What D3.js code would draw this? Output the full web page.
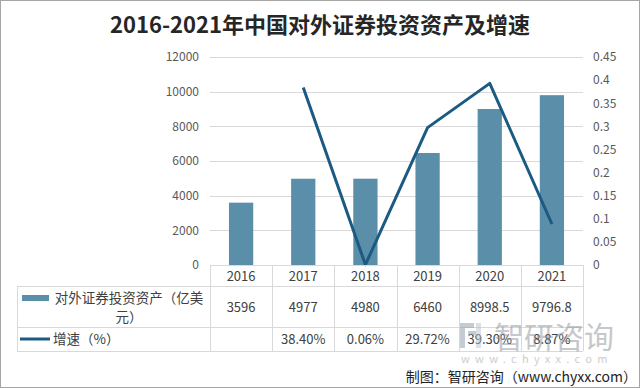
<!DOCTYPE html>
<html>
<head>
<meta charset="utf-8">
<script src="https://cdn.jsdelivr.net/npm/d3@7/dist/d3.min.js"></script>
<style>
  body { margin: 0; background: #fff; }
  svg { display: block; font-family: "Noto Sans CJK SC", "Noto Sans", sans-serif; }
</style>
</head>
<body>
<svg id="chart" width="640" height="388"></svg>
<script>
// ---------- data ----------
const years = ["2016", "2017", "2018", "2019", "2020", "2021"];
const assets = [3596, 4977, 4980, 6460, 8998.5, 9796.8];
const assetLabels = ["3596", "4977", "4980", "6460", "8998.5", "9796.8"];
const growth = [null, 0.3840, 0.0006, 0.2972, 0.3930, 0.0887];
const growthLabels = ["", "38.40%", "0.06%", "29.72%", "39.30%", "8.87%"];
const leftTicks = [0, 2000, 4000, 6000, 8000, 10000, 12000];
const rightTicks = [0, 0.05, 0.1, 0.15, 0.2, 0.25, 0.3, 0.35, 0.4, 0.45];

const barColor = "#5a8ea9";
const lineColor = "#1b5a82";
const gridColor = "#d9d9d9";

const svg = d3.select("#chart");

// outer frame
svg.append("rect")
    .attr("x", 0.5).attr("y", 0.5)
    .attr("width", 639).attr("height", 387)
    .attr("fill", "none")
    .attr("stroke", "#a6a6a6");

// title
svg.append("text")
    .attr("x", 320).attr("y", 33)
    .attr("text-anchor", "middle")
    .attr("font-size", 22)
    .attr("font-weight", "bold")
    .attr("fill", "#262626")
    .text("2016-2021年中国对外证券投资资产及增速");

// ---------- scales ----------
const plotLeft = 210, plotRight = 583, plotTop = 57, plotBottom = 265;

const x = d3.scaleBand()
    .domain(years)
    .range([plotLeft, plotRight])
    .paddingInner(0)
    .paddingOuter(0);

const yLeft = d3.scaleLinear().domain([0, 12000]).range([plotBottom, plotTop]);
const yRight = d3.scaleLinear().domain([0, 0.45]).range([plotBottom, plotTop]);

// gridlines
svg.append("g")
    .selectAll("line")
    .data(leftTicks)
    .join("line")
    .attr("x1", plotLeft).attr("x2", plotRight)
    .attr("y1", d => Math.round(yLeft(d)) + 0.5)
    .attr("y2", d => Math.round(yLeft(d)) + 0.5)
    .attr("stroke", gridColor);

// left axis labels
const leftAxis = svg.append("g")
    .attr("transform", "translate(" + (plotLeft - 11) + ",0)")
    .call(d3.axisLeft(yLeft).tickValues(leftTicks).tickSize(0).tickPadding(0)
        .tickFormat(d => String(d)));
leftAxis.select(".domain").remove();
leftAxis.selectAll("text")
    .attr("font-size", 12)
    .attr("fill", "#595959")
    .attr("font-family", "'Noto Sans CJK SC', sans-serif");

// right axis labels
const rightAxis = svg.append("g")
    .attr("transform", "translate(" + (plotRight + 10) + ",0)")
    .call(d3.axisRight(yRight).tickValues(rightTicks).tickSize(0).tickPadding(0)
        .tickFormat(d => String(+d.toFixed(2))));
rightAxis.select(".domain").remove();
rightAxis.selectAll("text")
    .attr("font-size", 12)
    .attr("fill", "#595959")
    .attr("font-family", "'Noto Sans CJK SC', sans-serif");

// bars
const barWidth = x.bandwidth() * 0.39;
svg.append("g")
    .selectAll("rect")
    .data(assets)
    .join("rect")
    .attr("x", (d, i) => x(years[i]) + (x.bandwidth() - barWidth) / 2)
    .attr("width", barWidth)
    .attr("y", d => yLeft(d))
    .attr("height", d => yLeft(0) - yLeft(d))
    .attr("fill", barColor);

// growth line
const line = d3.line()
    .defined(d => d[1] != null)
    .x(d => x(d[0]) + x.bandwidth() / 2)
    .y(d => yRight(d[1]));

svg.append("path")
    .datum(years.map((y, i) => [y, growth[i]]))
    .attr("d", line)
    .attr("fill", "none")
    .attr("stroke", lineColor)
    .attr("stroke-width", 3)
    .attr("stroke-linejoin", "round");

// ---------- data table ----------
const tableLeft = 17;
const rowTops = [plotBottom, 286, 326.5, 351];
const table = svg.append("g")
    .attr("stroke", gridColor)
    .attr("fill", "none");

// category axis line
table.append("line")
    .attr("x1", plotLeft).attr("x2", plotRight)
    .attr("y1", plotBottom + 0.5).attr("y2", plotBottom + 0.5);

// horizontal row lines
table.selectAll("line.row")
    .data(rowTops.slice(1))
    .join("line")
    .attr("class", "row")
    .attr("x1", tableLeft).attr("x2", plotRight)
    .attr("y1", d => Math.round(d) + 0.5)
    .attr("y2", d => Math.round(d) + 0.5);

// vertical lines at band edges
const edges = years.map(y => x(y)).concat([plotRight]);
table.selectAll("line.col")
    .data(edges)
    .join("line")
    .attr("class", "col")
    .attr("x1", d => Math.round(d) + 0.5).attr("x2", d => Math.round(d) + 0.5)
    .attr("y1", plotBottom).attr("y2", rowTops[3]);

table.append("line")
    .attr("x1", tableLeft + 0.5).attr("x2", tableLeft + 0.5)
    .attr("y1", rowTops[1]).attr("y2", rowTops[3]);

// category labels
svg.append("g")
    .selectAll("text")
    .data(years)
    .join("text")
    .attr("x", d => x(d) + x.bandwidth() / 2)
    .attr("y", 281)
    .attr("text-anchor", "middle")
    .attr("font-size", 13)
    .attr("fill", "#404040")
    .text(d => d);

// asset values row
svg.append("g")
    .selectAll("text")
    .data(assetLabels)
    .join("text")
    .attr("x", (d, i) => x(years[i]) + x.bandwidth() / 2)
    .attr("y", 312)
    .attr("text-anchor", "middle")
    .attr("font-size", 13)
    .attr("fill", "#404040")
    .text(d => d);

// growth values row
svg.append("g")
    .selectAll("text")
    .data(growthLabels)
    .join("text")
    .attr("x", (d, i) => x(years[i]) + x.bandwidth() / 2)
    .attr("y", 344)
    .attr("text-anchor", "middle")
    .attr("font-size", 13)
    .attr("fill", "#404040")
    .text(d => d);

// legend keys in the table
svg.append("rect")
    .attr("x", 22).attr("y", 295)
    .attr("width", 27).attr("height", 6)
    .attr("fill", barColor);

const seriesName = svg.append("text")
    .attr("text-anchor", "middle")
    .attr("font-size", 13.5)
    .attr("fill", "#404040");
seriesName.append("tspan").attr("x", 129).attr("y", 303).text("对外证券投资资产（亿美");
seriesName.append("tspan").attr("x", 129).attr("y", 322).text("元）");

svg.append("line")
    .attr("x1", 20).attr("x2", 50)
    .attr("y1", 339).attr("y2", 339)
    .attr("stroke", lineColor)
    .attr("stroke-width", 3);

svg.append("text")
    .attr("x", 53).attr("y", 344)
    .attr("font-size", 13.5)
    .attr("fill", "#404040")
    .text("增速（%）");

// ---------- watermark ----------
const mark = svg.append("g").attr("opacity", 0.5);
mark.append("rect").attr("x", 460).attr("y", 323).attr("width", 14).attr("height", 5).attr("fill", "#8a9aa8");
mark.append("rect").attr("x", 460).attr("y", 323).attr("width", 5).attr("height", 25).attr("fill", "#8a9aa8");
mark.append("rect").attr("x", 468).attr("y", 331).attr("width", 8).attr("height", 4).attr("fill", "#8a9aa8");
mark.append("rect").attr("x", 476).attr("y", 323).attr("width", 5).attr("height", 25).attr("fill", "#b8c4ce");
mark.append("text")
    .attr("x", 494).attr("y", 348)
    .attr("font-size", 30)
    .attr("fill", "#8c9196")
    .text("智研咨询");
mark.append("text")
    .attr("x", 461).attr("y", 363)
    .attr("font-size", 11)
    .attr("letter-spacing", 5.3)
    .attr("fill", "#9a9a9a")
    .text("www.chyxx.com");

// credit
svg.append("text")
    .attr("x", 637).attr("y", 382)
    .attr("text-anchor", "end")
    .attr("font-size", 14)
    .attr("fill", "#222")
    .text("制图：智研咨询（www.chyxx.com）");
</script>
</body>
</html>
